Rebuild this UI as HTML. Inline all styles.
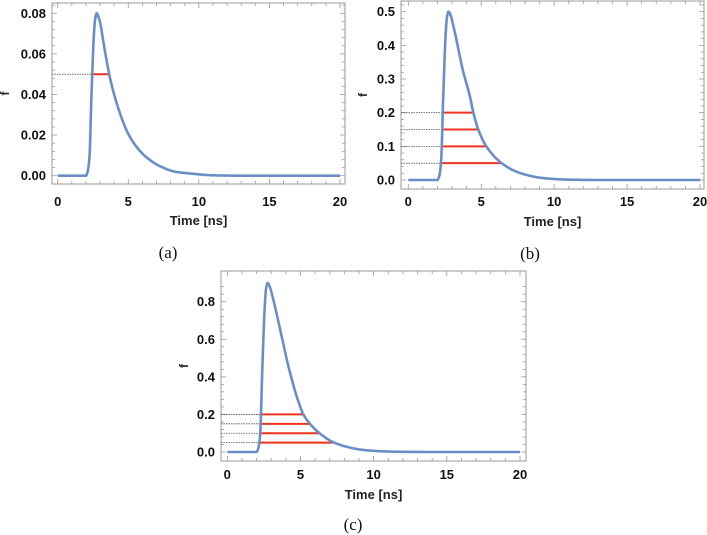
<!DOCTYPE html>
<html><head><meta charset="utf-8"><style>
html,body{margin:0;padding:0;background:#fff;}
svg{display:block;}
text{font-family:"Liberation Sans",Arial,sans-serif;}
.cap{font-family:"Liberation Serif","DejaVu Serif",serif;font-size:17px;}
</style></head><body>
<svg id="fig" width="707" height="535" viewBox="0 0 707 535"></svg>
<script>
// Panel (a) data
const timesA = [0,2.0,2.05,2.15,2.25,2.39,2.57,2.65,2.76,2.9,3.05,3.21,3.65,4.0,4.4,4.9,5.5,6.3,7.3,8.3,9.5,11,13,20];
const valuesA = [0,0,0.0005,0.003,0.009,0.039,0.07,0.077,0.08,0.078,0.074,0.067,0.05,0.04,0.031,0.022,0.015,0.009,0.0045,0.002,0.001,0.0002,0,0];
const levelsA = [0.05];
const levelStartA = [2.48];
const levelEndA = [3.65];
const yTicksA = [0,0.02,0.04,0.06,0.08];
const yLabelsA = ["0.00","0.02","0.04","0.06","0.08"];
// Panel (b) data
const timesB = [0,2.0,2.05,2.15,2.25,2.39,2.57,2.65,2.76,2.9,3.05,3.21,3.72,4.24,4.46,4.8,5.35,6.4,7.4,8.2,9,10,11,13,20];
const valuesB = [0,0,0.003,0.017,0.056,0.24,0.44,0.483,0.5,0.49,0.465,0.435,0.33,0.245,0.2,0.15,0.1,0.05,0.025,0.014,0.007,0.003,0.001,0,0];
const levelsB = [0.2,0.15,0.1,0.05];
const levelStartB = [2.32,2.3,2.28,2.24];
const levelEndB = [4.46,4.8,5.35,6.4];
const yTicksB = [0,0.1,0.2,0.3,0.4,0.5];
const yLabelsB = ["0.0","0.1","0.2","0.3","0.4","0.5"];
// Panel (c) data
const timesC = [0,2.0,2.05,2.15,2.25,2.39,2.57,2.65,2.76,2.9,3.05,3.21,3.72,4.24,4.9,5.2,5.65,6.3,7.3,8.3,9,10,11,12,14,20];
const valuesC = [0,0,0.005,0.03,0.1,0.436,0.79,0.87,0.9,0.88,0.84,0.79,0.614,0.436,0.259,0.2,0.15,0.1,0.05,0.025,0.014,0.006,0.0025,0.001,0,0];
const levelsC = [0.2,0.15,0.1,0.05];
const levelStartC = [2.33,2.31,2.29,2.25];
const levelEndC = [5.2,5.65,6.3,7.3];
const yTicksC = [0,0.2,0.4,0.6,0.8];
const yLabelsC = ["0.0","0.2","0.4","0.6","0.8"];
const xTicks = [0,5,10,15,20];
const xLabels = ["0","5","10","15","20"];

const NS="http://www.w3.org/2000/svg";
const svg=document.getElementById('fig');
function mk(tag,attrs,parent){const e=document.createElementNS(NS,tag);for(const k in attrs)e.setAttribute(k,attrs[k]);(parent||svg).appendChild(e);return e;}

// monotone cubic (Fritsch-Carlson) interpolation
function monotone(xs,ys){
  const n=xs.length,d=[],m=new Array(n);
  for(let i=0;i<n-1;i++)d.push((ys[i+1]-ys[i])/(xs[i+1]-xs[i]));
  m[0]=d[0];m[n-1]=d[n-2];
  for(let i=1;i<n-1;i++){
    if(d[i-1]*d[i]<=0)m[i]=0;
    else{const h0=xs[i]-xs[i-1],h1=xs[i+1]-xs[i],w1=2*h1+h0,w2=h1+2*h0;m[i]=(w1+w2)/(w1/d[i-1]+w2/d[i]);}
  }
  return function(x){
    let i=0;while(i<n-2&&x>xs[i+1])i++;
    const h=xs[i+1]-xs[i],t=(x-xs[i])/h,t2=t*t,t3=t2*t;
    return (2*t3-3*t2+1)*ys[i]+(t3-2*t2+t)*h*m[i]+(-2*t3+3*t2)*ys[i+1]+(t3-t2)*h*m[i+1];
  };
}

function panel(id,cfg,times,values,levels,ls,le,yTicks,yLabels){
  const g=mk('g',{});
  
  
  const sx=t=>cfg.x0+(t-0)*(cfg.x20-cfg.x0)/20;
  const sy=v=>cfg.y0+(v)*(cfg.yTop-cfg.y0)/cfg.vTop;
  const fr=mk('rect',{x:cfg.fl,y:cfg.ft,width:cfg.fr-cfg.fl,height:cfg.fb-cfg.ft,fill:'none',stroke:'#999',"stroke-width":1},g);
  
  
  for(let t=0;t<=20;t+=1){
    const X=sx(t), major=t%5===0, L=major?5:3;
    mk('line',{x1:X,x2:X,y1:cfg.fb,y2:cfg.fb-L,stroke:'#999','stroke-width':0.8},g);
    mk('line',{x1:X,x2:X,y1:cfg.ft,y2:cfg.ft+L,stroke:'#999','stroke-width':0.8},g);
  }
  xTicks.forEach((t,i)=>{
    const tx=mk('text',{x:sx(t),y:cfg.lblY,'text-anchor':'middle','font-size':13,'font-weight':'bold',fill:'#111'},g);
    tx.textContent=xLabels[i];
    
    
  });
  const step=yTicks[1]-yTicks[0];
  for(let k=0;k<=(yTicks.length-1)*5+5;k++){
    const v=k*step/5; if(v>cfg.vMaxTick)break;
    const Y=sy(v), major=k%5===0, L=major?5:3;
    mk('line',{x1:cfg.fl,x2:cfg.fl+L,y1:Y,y2:Y,stroke:'#999','stroke-width':0.8},g);
    mk('line',{x1:cfg.fr,x2:cfg.fr-L,y1:Y,y2:Y,stroke:'#999','stroke-width':0.8},g);
  }
  yTicks.forEach((v,i)=>{
    const tx=mk('text',{x:cfg.fl-6,y:sy(v)+4.5,'text-anchor':'end','font-size':13,'font-weight':'bold',fill:'#111'},g);
    tx.textContent=yLabels[i];
    
    
  });
  const xt=mk('text',{x:(cfg.fl+cfg.fr)/2,y:cfg.titleY,'text-anchor':'middle','font-size':13,'font-weight':'bold',fill:'#222'},g);
  xt.textContent='Time [ns]';
  
  
  const yt=mk('text',{x:cfg.fTitleX,y:(cfg.ft+cfg.fb)/2,'text-anchor':'middle','font-size':12,'font-weight':'bold',fill:'#222',transform:`rotate(-90 ${cfg.fTitleX} ${(cfg.ft+cfg.fb)/2})`},g);
  yt.textContent='f';
  
  
  levels.forEach((v,i)=>{
    const d=mk('line',{x1:cfg.fl,x2:sx(ls[i]),y1:sy(v),y2:sy(v),stroke:'#555','stroke-width':0.8,'stroke-dasharray':'1.5,1'},g);
    
    
    const r=mk('line',{x1:sx(ls[i]),x2:sx(le[i]),y1:sy(v),y2:sy(v),stroke:'#f0321e','stroke-width':2},g);
    
    
  });
  const f=monotone(times,values);
  let d='';
  for(let t=0;t<=20.0001;t+=0.02){d+=(d?' L':'M')+sx(t).toFixed(2)+','+sy(f(t)).toFixed(2);}
  const c=mk('path',{d:d,fill:'none',stroke:'#6a8ec8','stroke-width':2.6,'stroke-linejoin':'round'},g);
  
  
  const cap=mk('text',{x:cfg.capX,y:cfg.capY,'text-anchor':'middle',class:'cap',fill:'#111'},g);
  cap.textContent='('+id+')';
  
  
}

panel('a',{fl:52,fr:345,ft:3,fb:184,x0:57.7,x20:340,y0:175.7,yTop:13.3,vTop:0.08,vMaxTick:0.085,lblY:206,titleY:225,fTitleX:9,capX:168,capY:258},timesA,valuesA,levelsA,levelStartA,levelEndA,yTicksA,yLabelsA);
panel('b',{fl:401,fr:704,ft:1,fb:189,x0:408.3,x20:700,y0:180,yTop:11.7,vTop:0.5,vMaxTick:0.52,lblY:206,titleY:226,fTitleX:367,capX:530,capY:259},timesB,valuesB,levelsB,levelStartB,levelEndB,yTicksB,yLabelsB);
panel('c',{fl:221,fr:526,ft:271,fb:461,x0:227.3,x20:520,y0:452,yTop:301.7,vTop:0.8,vMaxTick:0.92,lblY:479,titleY:499,fTitleX:188,capX:353,capY:530},timesC,valuesC,levelsC,levelStartC,levelEndC,yTicksC,yLabelsC);
</script>
</body></html>
